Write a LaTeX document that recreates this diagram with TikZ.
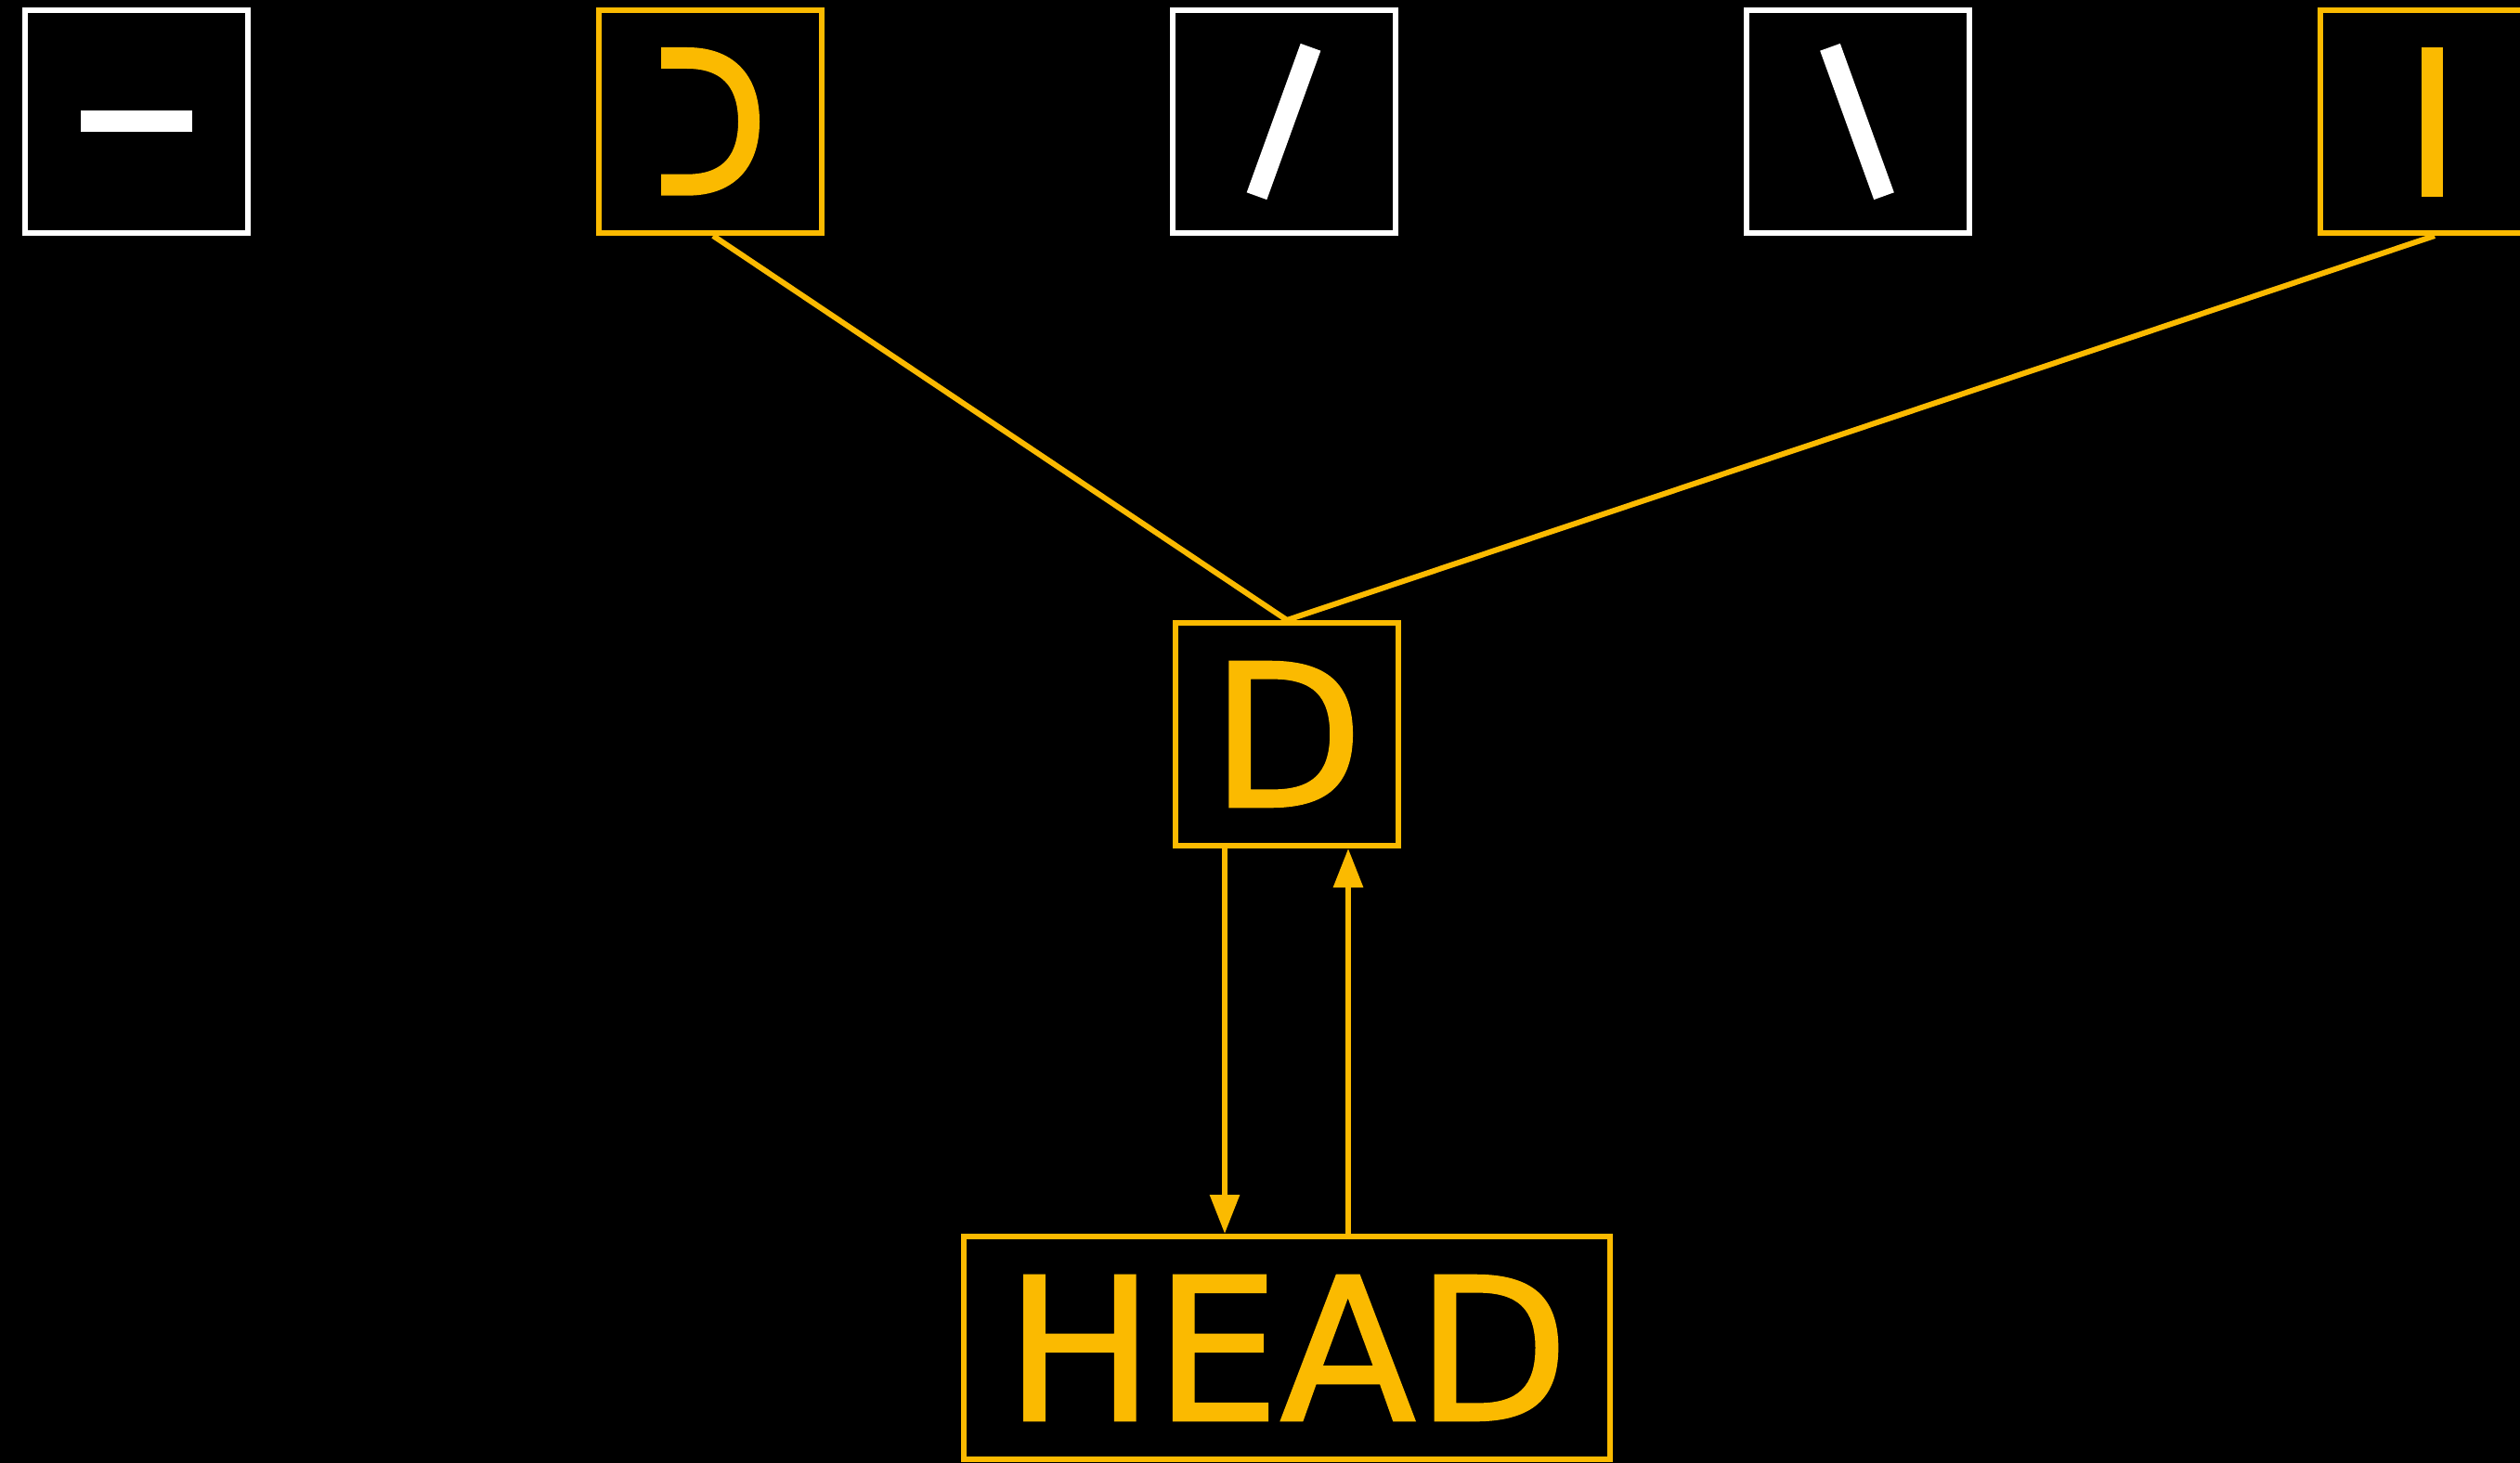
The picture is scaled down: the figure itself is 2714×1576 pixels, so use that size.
\documentclass[tikz,border=0pt]{standalone}
\usepackage{fontspec}
\setmainfont{DejaVu Sans}
\newfontfamily\nodefont[FakeBold=1.2]{DejaVu Sans}
\usetikzlibrary{arrows.meta}
\definecolor{hl}{RGB}{251,186,0}
\tikzset{
  box/.style={draw=#1, line width=6pt, minimum width=240pt, minimum height=240pt, inner sep=0pt,
              text=#1, font=\nodefont\fontsize{214}{214}\selectfont, text height=156pt, text depth=0pt},
  conn/.style={draw=hl, line width=6pt},
  tipconn/.style={conn, -{Triangle[length=42pt,width=31pt]}},
  stroke/.style={line width=23pt, line cap=butt}
}
\begin{document}
\begin{tikzpicture}[x=1pt,y=-1pt]
\fill[black] (0,0) rectangle (2714,1576);
\useasboundingbox (0,0) rectangle (2714,1576);
% top row
\node[box=white] (n1) at (147,131) {};
\node[box=hl] (n2) at (765,131) {};
\node[box=white] (n3) at (1383,131) {};
\node[box=white] (n4) at (2001,131) {};
\node[box=hl] (n5) at (2619,131) {};
% glyph pieces
\fill[white] (87.3,119.5) rectangle (206.7,142.5);
\draw[hl, stroke] (712,62.5) -- (740,62.5) .. controls (788,62.5) and (806.5,92) .. (806.5,131)
   .. controls (806.5,170) and (788,199.2) .. (740,199.2) -- (712,199.2);
\draw[white, stroke] (1353.5,211.2) -- (1411.5,50.8);
\draw[white, stroke] (1971,50.8) -- (2029,211.2);
\fill[hl] (2607.5,50.7) rectangle (2630.5,211.7);
% middle and bottom
\node[box=hl] (d) at (1386,791) {D};
\node[box=hl, minimum width=696pt] (head) at (1386,1452) {HEAD};
% connectors
\draw[conn] (d.north) -- ([xshift=3pt]n2.south);
\draw[conn] (d.north) -- ([xshift=3pt]n5.south);
\draw[tipconn] ([xshift=-67pt]d.south) -- ([xshift=-67pt]head.north);
\draw[tipconn] ([xshift=66pt]head.north) -- ([xshift=66pt]d.south);
\end{tikzpicture}
\end{document}
